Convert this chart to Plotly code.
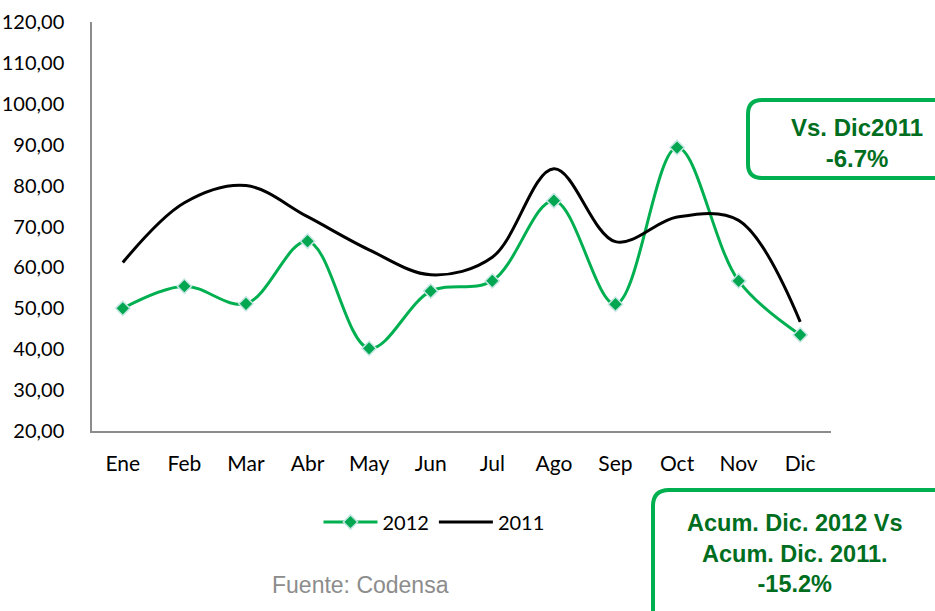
import plotly.graph_objects as go

months = ["Ene", "Feb", "Mar", "Abr", "May", "Jun", "Jul", "Ago", "Sep", "Oct", "Nov", "Dic"]
v2012 = [50.0, 55.4, 51.1, 66.4, 40.2, 54.2, 56.7, 76.3, 51.0, 89.3, 56.7, 43.5]
v2011 = [61.2, 75.8, 80.0, 72.4, 64.3, 58.2, 62.5, 84.1, 66.3, 72.3, 71.5, 46.7]
yticks = [20, 30, 40, 50, 60, 70, 80, 90, 100, 110, 120]

W, H = 935, 611
L, R, T, B = 92, 831, 22, 431

def px(x):
    return (x - L) / (R - L)

def py(y):
    return (B - y) / (B - T)

def rounded(x0, y0, x1, y1, r):
    pts = [
        ("M", x0 + r, y0),
        ("L", x1 - r, y0), ("Q", x1, y0, x1, y0 + r),
        ("L", x1, y1 - r), ("Q", x1, y1, x1 - r, y1),
        ("L", x0 + r, y1), ("Q", x0, y1, x0, y1 - r),
        ("L", x0, y0 + r), ("Q", x0, y0, x0 + r, y0),
    ]
    s = ""
    for p in pts:
        cmd = p[0]
        coords = p[1:]
        parts = []
        for i in range(0, len(coords), 2):
            parts.append(f"{px(coords[i]):.5f},{py(coords[i+1]):.5f}")
        s += cmd + " " + " ".join(parts) + " "
    return s + "Z"

fig = go.Figure()
fig.add_trace(go.Scatter(
    x=months, y=v2012, name="2012", mode="lines+markers",
    line=dict(color="#00B050", width=3, shape="spline", smoothing=1.0),
    marker=dict(symbol="diamond", size=11, color="#00A650",
                line=dict(color="#C5E6E3", width=1.5)),
))
fig.add_trace(go.Scatter(
    x=months, y=v2011, name="2011", mode="lines",
    line=dict(color="#000000", width=3, shape="spline", smoothing=1.0),
))

green = "#00B050"
dark = "#006E1E"
fig.add_shape(type="path", path=rounded(748, 100, 950, 178, 14), xref="paper", yref="paper",
              line=dict(color=green, width=4), fillcolor="white", layer="above")
fig.add_shape(type="path", path=rounded(653, 490, 950, 630, 16), xref="paper", yref="paper",
              line=dict(color=green, width=4), fillcolor="white", layer="above")

fig.add_annotation(x=px(857), y=py(143), xref="paper", yref="paper", showarrow=False,
                   xanchor="center", yanchor="middle",
                   text="<b>Vs. Dic2011<br>-6.7%</b>", align="center",
                   font=dict(family="Liberation Sans, Arial", size=24, color=dark))
fig.add_annotation(x=px(795), y=py(553), xref="paper", yref="paper", showarrow=False,
                   xanchor="center", yanchor="middle",
                   text="<b>Acum. Dic. 2012 Vs<br>Acum. Dic. 2011.<br>-15.2%</b>", align="center",
                   font=dict(family="Liberation Sans, Arial", size=23.5, color=dark))
fig.add_annotation(x=px(360), y=py(585), xref="paper", yref="paper", showarrow=False,
                   xanchor="center", yanchor="middle",
                   text="Fuente: Codensa",
                   font=dict(family="Liberation Sans, Arial", size=23, color="#8C8C8C"))

fig.update_layout(
    width=W, height=H,
    margin=dict(l=L, r=W - R, t=T, b=H - B),
    paper_bgcolor="white", plot_bgcolor="white",
    separators=",.",
    font=dict(family="Lato, Calibri, sans-serif", size=21, color="#000000"),
    showlegend=True,
    legend=dict(orientation="h", x=px(434), y=py(522), xanchor="center", yanchor="middle",
                font=dict(size=20), bgcolor="rgba(0,0,0,0)", itemwidth=54),
    xaxis=dict(range=[-0.5, 11.5], showline=True, linecolor="#8C8C8C", linewidth=1.5,
               showgrid=False, zeroline=False, ticks="", ticklabelstandoff=13,
               automargin=False),
    yaxis=dict(range=[20, 120], tickvals=yticks, tickformat=".2f", showline=True,
               linecolor="#8C8C8C", linewidth=1.5, showgrid=False, zeroline=False,
               ticks="", ticklabelstandoff=22, automargin=False,
               tickfont=dict(size=20)),
)

fig.write_html("out.html", post_script="document.body.style.margin='0';",
               config={"displayModeBar": False})
